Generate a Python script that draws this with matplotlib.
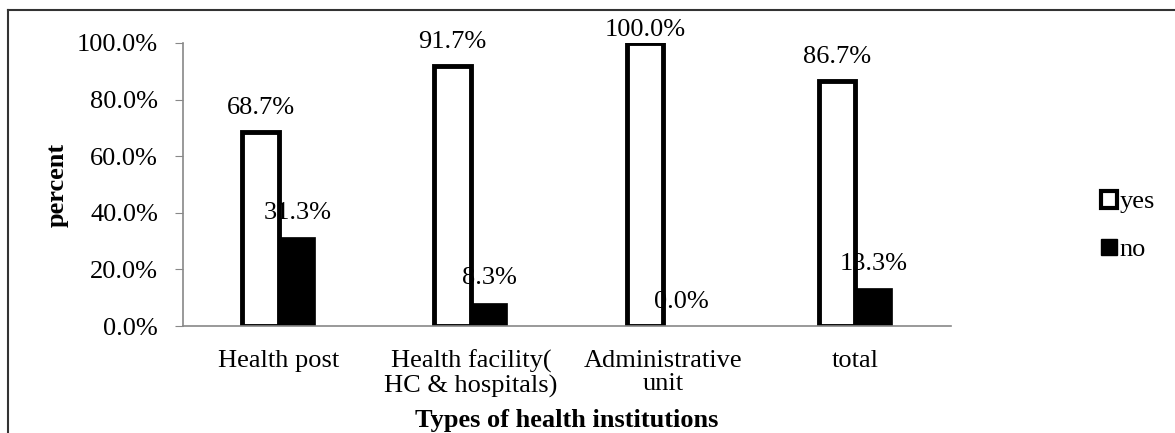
import numpy as np
import matplotlib.pyplot as plt
from matplotlib.patches import Patch
from matplotlib.lines import Line2D

plt.rcParams['font.family'] = ['Liberation Serif', 'DejaVu Serif']

categories = ['Health post', 'Health facility(\nHC & hospitals)', 'Administrative\nunit', 'total']
yes_vals = [68.7, 91.7, 100.0, 86.7]
no_vals = [31.3, 8.3, 0.0, 13.3]
yticks = [0, 20, 40, 60, 80, 100]

fs = 19
fig = plt.figure(figsize=(11.75, 4.33), dpi=100)
ax = fig.add_axes([0.1557, 0.2471, 0.6537, 0.6536])

x = np.arange(len(categories))
w = 0.19
ax.bar(x - w / 2, yes_vals, w, color='white', edgecolor='black', linewidth=3.5)
ax.bar(x + w / 2, no_vals, w, color='black', edgecolor='black', linewidth=0.5)

# labels sit above the bars, but are kept inside the chart area
for xi, v in zip(x, yes_vals):
    ax.text(xi - w / 2, min(v + 8.5, 104.6), f'{v:.1f}%', ha='center', va='center', fontsize=fs)
for xi, v in zip(x, no_vals):
    ax.text(xi + w / 2, min(v + 8.5, 104.6), f'{v:.1f}%', ha='center', va='center', fontsize=fs)

ax.set_xlim(-0.5, len(categories) - 0.5)
ax.set_ylim(0, 100)
ax.set_yticks(yticks)
ax.set_yticklabels([f'{t:.1f}%' for t in yticks], fontsize=fs)
ax.set_xticks(x)
ax.set_xticklabels(categories, fontsize=fs, linespacing=1.1)
ax.tick_params(axis='x', length=0, pad=17)
ax.tick_params(axis='y', length=6, color='#888888', pad=12)
for s in ['top', 'right']:
    ax.spines[s].set_visible(False)
for s in ['left', 'bottom']:
    ax.spines[s].set_color('#888888')
    ax.spines[s].set_linewidth(1.2)

ax.set_ylabel('percent', fontsize=fs, fontweight='bold', va='center')
ax.yaxis.set_label_coords(-0.164, 0.5)
ax.set_xlabel('Types of health institutions', fontsize=fs, fontweight='bold', va='center')
ax.xaxis.set_label_coords(0.5, -0.335)

handles = [Patch(facecolor='white', edgecolor='black', linewidth=3),
           Patch(facecolor='black', edgecolor='black')]
fig.legend(handles, ['yes', 'no'], loc='center left', bbox_to_anchor=(0.917, 0.478),
           frameon=False, fontsize=fs, handlelength=0.6, handleheight=0.6,
           handletextpad=0.1, labelspacing=0.95)

# outer frame
fig.add_artist(Line2D([8 / 1175, 1], [1 - 10 / 433, 1 - 10 / 433], color='#333333', lw=1.5,
                      transform=fig.transFigure))
fig.add_artist(Line2D([8 / 1175, 8 / 1175], [0, 1 - 10 / 433], color='#333333', lw=1.5,
                      transform=fig.transFigure))

fig.savefig('out.png', dpi=100)
